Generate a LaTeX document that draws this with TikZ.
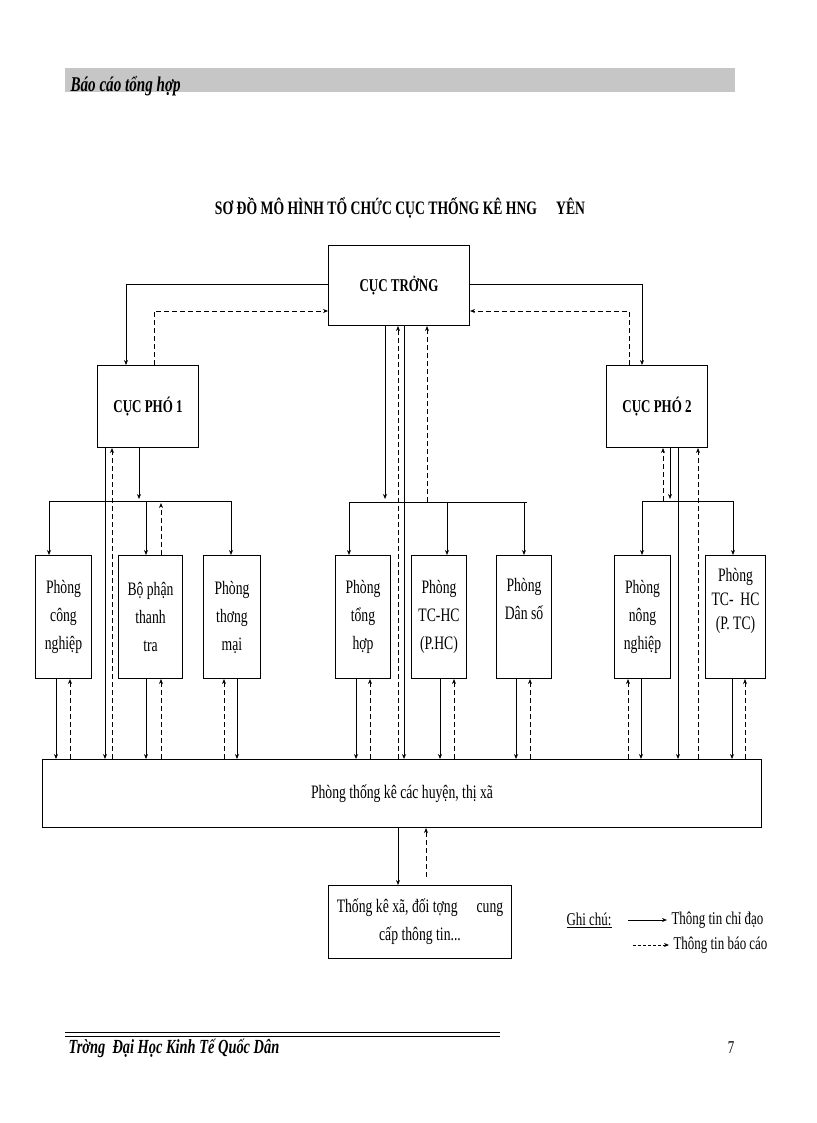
\documentclass[tikz,border=0pt]{standalone}
\usepackage{fontspec}
\setmainfont{Liberation Serif}[FakeStretch=0.72]
\usetikzlibrary{arrows.meta}
\begin{document}
\begin{tikzpicture}[x=1pt,y=-1pt,
  box/.style={draw,line width=1pt,anchor=north west,inner sep=0pt,align=center,font=\fontsize{19}{28}\selectfont},
  sol/.style={line width=0.8pt,-{Stealth[length=5pt,width=4pt]}},
  das/.style={line width=0.8pt,dash pattern=on 5pt off 3pt,-{Stealth[length=5pt,width=4pt]}},
  ln/.style={line width=1pt}]
\useasboundingbox (0,0) rectangle (816,1123);
% header
\node[fill=gray!45,anchor=north west,minimum width=670,minimum height=24,inner sep=0pt] (hdr) at (65,68) {};
\node[anchor=west,font=\fontsize{21}{24}\selectfont\bfseries\itshape] (hdrt) at (67,86) {Báo cáo tổng hợp};
\node[font=\fontsize{19}{22}\selectfont\bfseries] (title) at (400,208) {SƠ ĐỒ MÔ HÌNH TỔ CHỨC CỤC THỐNG KÊ HNG\quad YÊN};
% boxes
\node[box,minimum width=141,minimum height=80,font=\fontsize{18}{22}\selectfont\bfseries] (ct) at (328,245) {CỤC TRỞNG};
\node[box,minimum width=101,minimum height=82,font=\fontsize{18}{22}\selectfont\bfseries] (cp1) at (97,365) {CỤC PHÓ 1};
\node[box,minimum width=101,minimum height=82,font=\fontsize{18}{22}\selectfont\bfseries] (cp2) at (606,365) {CỤC PHÓ 2};
\node[box,minimum width=56,minimum height=123] (cn) at (35,555) {Phòng\\công\\nghiệp};
\node[box,minimum width=64,minimum height=123] (tt) at (118,555) {Bộ phận\\thanh\\tra};
\node[box,minimum width=57,minimum height=123] (tm) at (203,555) {Phòng\\thơng\\mại};
\node[box,minimum width=55,minimum height=123] (th) at (335,555) {Phòng\\tổng\\hợp};
\node[box,minimum width=55,minimum height=123] (tc) at (411,555) {Phòng\\TC-HC\\(P.HC)};
\node[box,minimum width=55,minimum height=123] (ds) at (496,555) {Phòng\\Dân số\\\strut};
\node[box,minimum width=56,minimum height=123] (nn) at (614,555) {Phòng\\nông\\nghiệp};
\node[box,minimum width=60,minimum height=123,font=\fontsize{19}{24}\selectfont] (tc2) at (705,555) {Phòng\\TC-\ \ HC\\(P. TC)\\[6pt]\strut};
\node[box,minimum width=719,minimum height=68] (ptk) at (42,759) {Phòng thống kê các huyện, thị xã};
\node[box,minimum width=183,minimum height=73] (xa) at (328,885) {Thống kê xã, đối tợng\quad cung\\cấp thông tin...};
% top connectors
\draw[sol] (ct.west |- 0,284) -| (126,0 |- cp1.north);
\draw[das] (154,0 |- cp1.north) |- (ct.west |- 0,311);
\draw[sol] (ct.east |- 0,284) -| (642,0 |- cp2.north);
\draw[das] (629,0 |- cp2.north) |- (ct.east |- 0,311);
% centre
\draw[sol] (385,0 |- ct.south) -- (385,499);
\draw[das] (398,0 |- ptk.north) -- (398,0 |- ct.south);
\draw[sol] (404,0 |- ct.south) -- (404,0 |- ptk.north);
\draw[das] (427,502) -- (427,0 |- ct.south);
\draw[ln] (349,502) -- (527,502);
\draw[sol] (349,502) -- (349,0 |- th.north);
\draw[sol] (447,502) -- (447,0 |- tc.north);
\draw[sol] (524,502) -- (524,0 |- ds.north);
% CP1
\draw[sol] (105,0 |- cp1.south) -- (105,0 |- ptk.north);
\draw[das] (112,0 |- ptk.north) -- (112,0 |- cp1.south);
\draw[sol] (139,0 |- cp1.south) -- (139,499);
\draw[ln] (49,501) -- (232,501);
\draw[sol] (49,501) -- (49,0 |- cn.north);
\draw[sol] (146,501) -- (146,0 |- tt.north);
\draw[sol] (231,501) -- (231,0 |- tm.north);
\draw[das] (161,0 |- tt.north) -- (161,503);
% CP2
\draw[das] (663,501) -- (663,0 |- cp2.south);
\draw[sol] (670,0 |- cp2.south) -- (670,499);
\draw[sol] (678,0 |- cp2.south) -- (678,0 |- ptk.north);
\draw[das] (698,0 |- ptk.north) -- (698,0 |- cp2.south);
\draw[ln] (642,501) -- (733,501);
\draw[sol] (642,501) -- (642,0 |- nn.north);
\draw[sol] (733,501) -- (733,0 |- tc2.north);
% row to ptk
\foreach \s/\d/\b in {56/70/cn,146/161/tt,237/224/tm,356/370/th,440/454/tc,516/530/ds,641/628/nn,732/745/tc2}{
  \draw[sol] (\s,0 |- \b.south) -- (\s,0 |- ptk.north);
  \draw[das] (\d,0 |- ptk.north) -- (\d,0 |- \b.south);
}
% ptk to xa
\draw[sol] (398,0 |- ptk.south) -- (398,0 |- xa.north);
\draw[das] (426,877) -- (426,0 |- ptk.south);
% legend
\node[anchor=west,font=\fontsize{18}{20}\selectfont] (gc) at (563,920) {\underline{Ghi chú:}};
\coordinate (l1a) at (628,920); \coordinate (l1b) at (667,920);
\draw[sol] (l1a) -- (l1b);
\node[anchor=west,font=\fontsize{18}{20}\selectfont] (lg1) at (668,920) {Thông tin chỉ đạo};
\coordinate (l2a) at (633,945); \coordinate (l2b) at (669,945);
\draw[das,dash pattern=on 3pt off 2pt] (l2a) -- (l2b);
\node[anchor=west,font=\fontsize{18}{20}\selectfont] (lg2) at (670,945) {Thông tin báo cáo};
% footer
\draw[line width=0.8pt] (65,1032) -- (500,1032);
\draw[line width=0.8pt] (65,1036) -- (500,1036);
\node[anchor=west,font=\fontsize{20}{22}\selectfont\bfseries\itshape] (ft) at (65,1048) {Trờng\ \ Đại Học Kinh Tế Quốc Dân};
\node[font=\fontsize{18}{20}\selectfont] (pg) at (731,1048) {7};
\end{tikzpicture}
\end{document}
